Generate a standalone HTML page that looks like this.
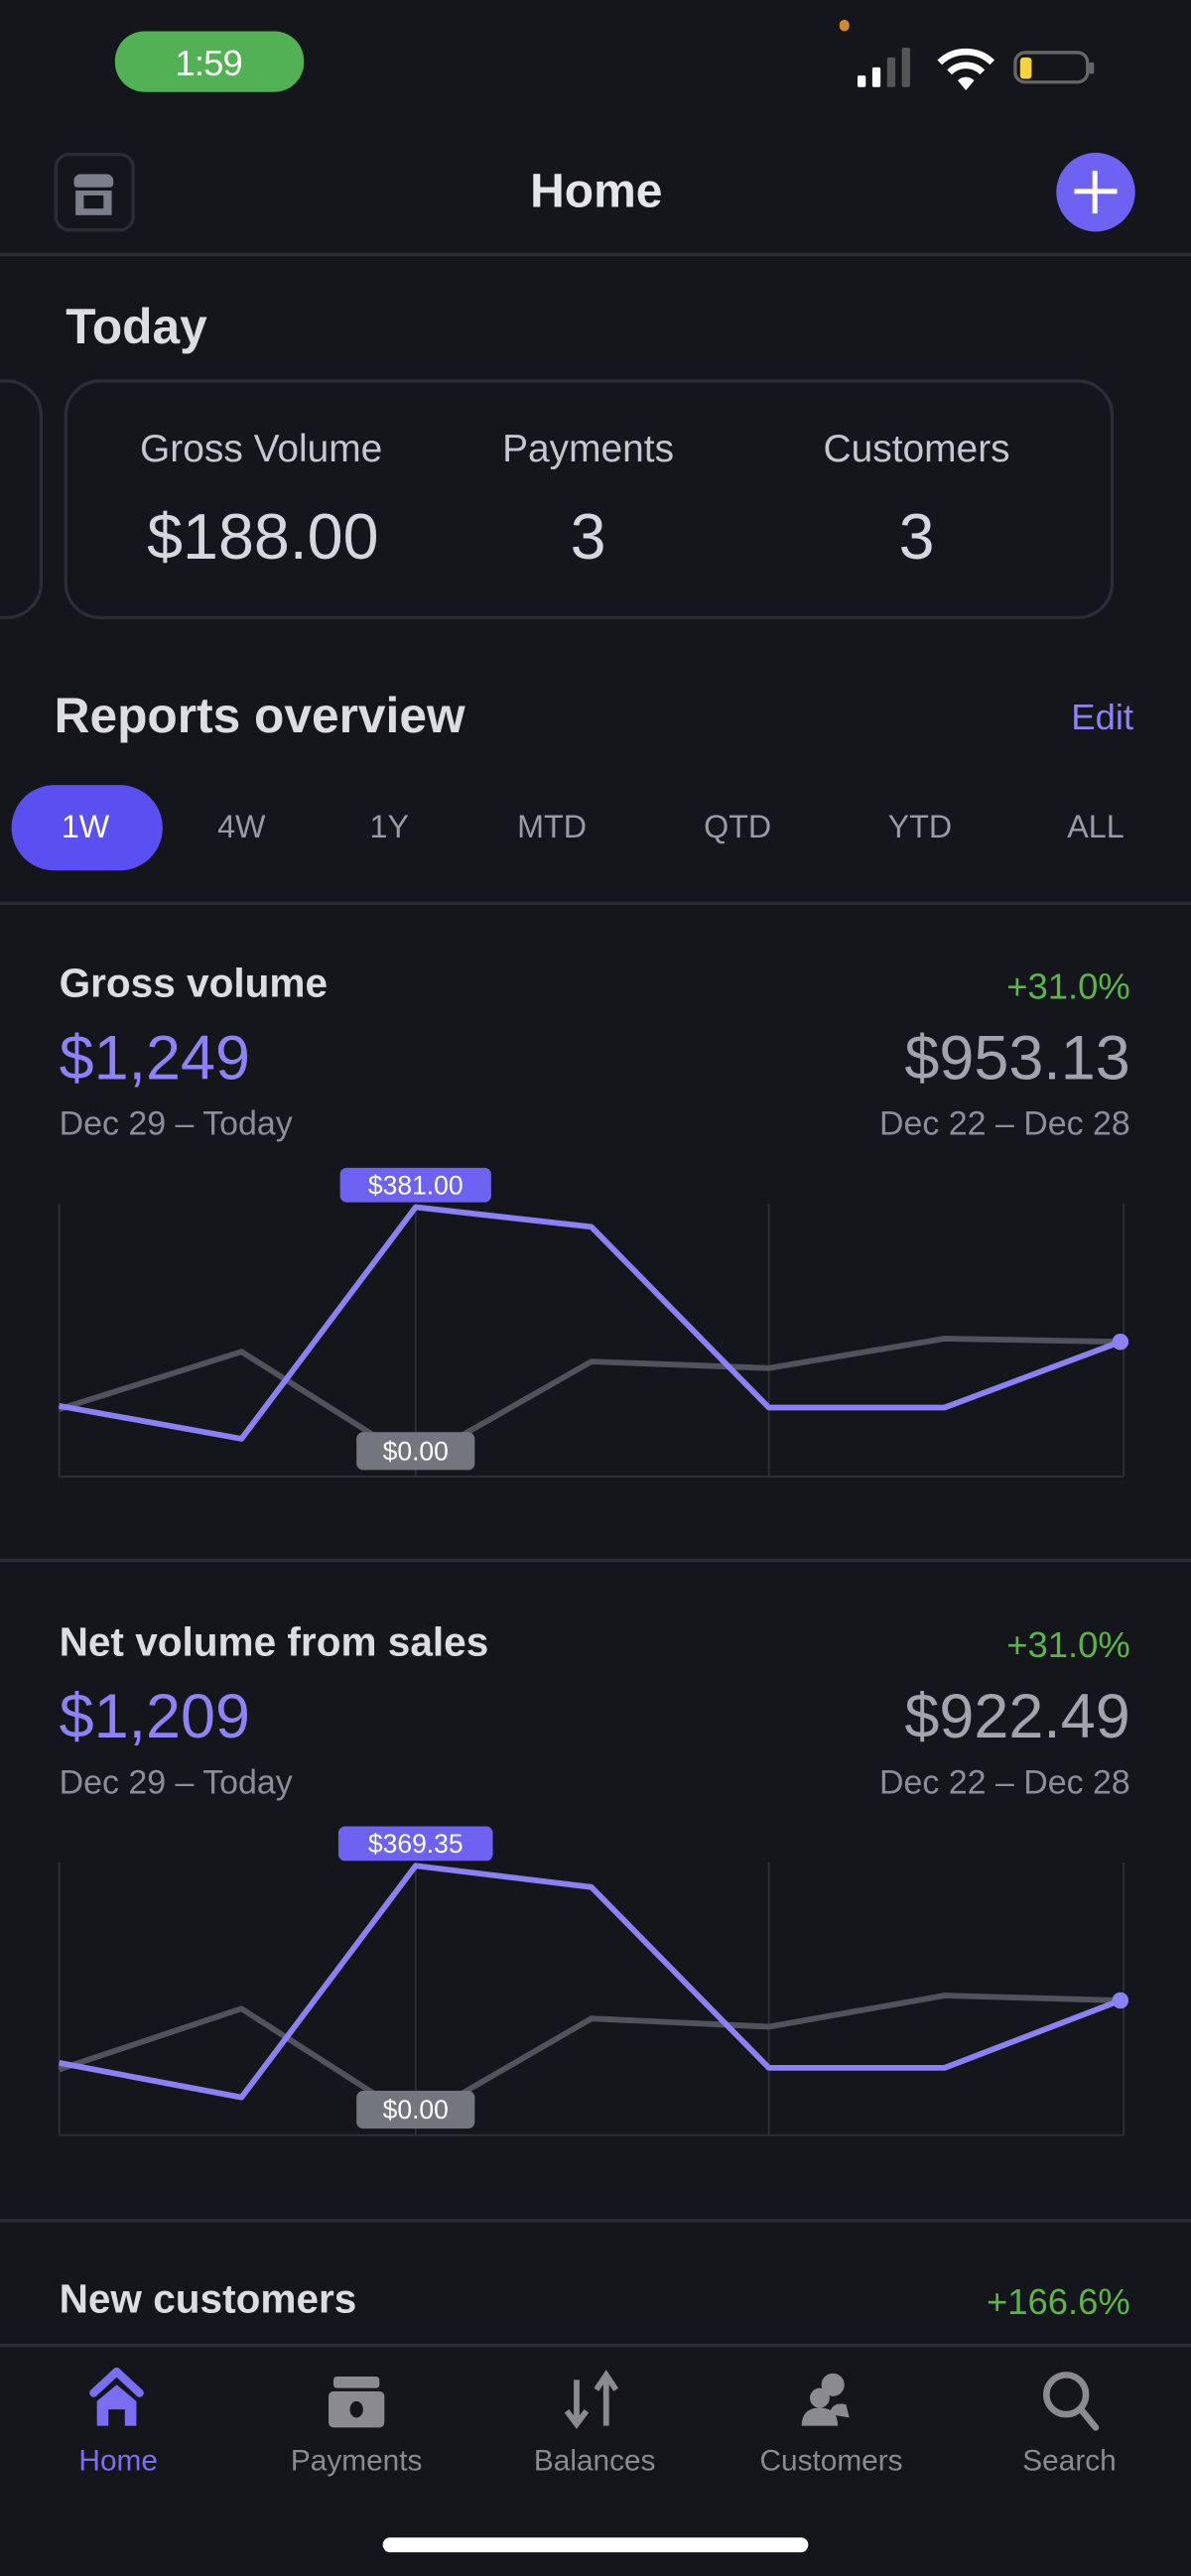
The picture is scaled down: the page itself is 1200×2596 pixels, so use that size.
<!DOCTYPE html>
<html><head><meta charset="utf-8"><style>
html,body{margin:0;padding:0;background:#14161c;}
body{width:1200px;height:2596px;overflow:hidden;}
#w{position:absolute;left:0;top:0;width:725px;height:1568px;transform:scale(1.65517);transform-origin:0 0;font-family:"Liberation Sans",sans-serif;}
.t{position:absolute;white-space:nowrap;line-height:1;}
.r{text-align:right;}
.c{transform:translateX(-50%);}
.hr{position:absolute;left:0;width:725px;height:2px;background:#2a2c33;}
.b{font-weight:bold;}
</style></head><body><div id="w">
<!-- status bar -->
<div style="position:absolute;left:70px;top:19px;width:115px;height:37px;border-radius:18px;background:#53b155;"></div>
<div class="t c" style="left:127px;top:28px;font-size:22px;color:#fff;letter-spacing:-0.5px;">1:59</div>
<div style="position:absolute;left:511px;top:12px;width:6px;height:7px;border-radius:3px;background:#d08a2a;"></div>
<div style="position:absolute;left:522px;top:46px;width:5px;height:7px;background:#fff;border-radius:1px"></div>
<div style="position:absolute;left:531px;top:41px;width:5px;height:12px;background:#fff;border-radius:1px"></div>
<div style="position:absolute;left:540px;top:35px;width:5px;height:18px;background:#555;border-radius:1px"></div>
<div style="position:absolute;left:549px;top:29px;width:5px;height:24px;background:#555;border-radius:1px"></div>
<svg style="position:absolute;left:570px;top:28px" width="36" height="28" viewBox="0 0 36 28"><path d="M2 10 A23 23 0 0 1 34 10" stroke="#fff" stroke-width="4" fill="none"/><path d="M8 16 A14 14 0 0 1 28 16" stroke="#fff" stroke-width="4" fill="none"/><path d="M13 21 L18 27 L23 21 A7 7 0 0 0 13 21Z" fill="#fff"/></svg>
<div style="position:absolute;left:617px;top:31px;width:46px;height:20px;border:2px solid #666;border-radius:7px;box-sizing:border-box;"></div>
<div style="position:absolute;left:663px;top:38px;width:3px;height:7px;background:#666;border-radius:1px"></div>
<div style="position:absolute;left:621px;top:35px;width:7px;height:13px;background:#f2d43d;border-radius:2px"></div>
<!-- header -->
<div style="position:absolute;left:33px;top:93px;width:49px;height:48px;border:2px solid #2a2d35;border-radius:9px;box-sizing:border-box;"></div>
<div style="position:absolute;left:45px;top:106px;width:24px;height:8px;background:#7b7f8c;border-radius:4px 4px 2px 2px"></div>
<div style="position:absolute;left:46px;top:116px;width:22px;height:15px;background:#7b7f8c;"></div>
<div style="position:absolute;left:51px;top:119px;width:12px;height:8px;background:#14161c;"></div>
<div class="t c b" style="left:363px;top:103px;font-size:29px;color:#e4e4ea;">Home</div>
<div style="position:absolute;left:643px;top:93px;width:48px;height:48px;border-radius:24px;background:#6d62f1;"></div>
<div style="position:absolute;left:665px;top:104px;width:3px;height:26px;background:#fff;"></div>
<div style="position:absolute;left:654px;top:115px;width:26px;height:3px;background:#fff;"></div>
<div class="hr" style="top:154px"></div>
<!-- Today -->
<div class="t b" style="left:40px;top:185px;font-size:30px;color:#dcdce2;">Today</div>
<div style="position:absolute;left:-30px;top:231px;width:56px;height:146px;border:2px solid #2b2e36;border-radius:22px;box-sizing:border-box;"></div>
<div style="position:absolute;left:39px;top:231px;width:639px;height:146px;border:2px solid #2b2e36;border-radius:22px;box-sizing:border-box;"></div>
<div class="t c" style="left:159px;top:262px;font-size:23.5px;color:#c6c7ce;">Gross Volume</div>
<div class="t c" style="left:358px;top:262px;font-size:23.5px;color:#c6c7ce;">Payments</div>
<div class="t c" style="left:558px;top:262px;font-size:23.5px;color:#c6c7ce;">Customers</div>
<div class="t c" style="left:160px;top:308px;font-size:39px;color:#d6d7de;">$188.00</div>
<div class="t c" style="left:358px;top:308px;font-size:39px;color:#d6d7de;">3</div>
<div class="t c" style="left:558px;top:308px;font-size:39px;color:#d6d7de;">3</div>
<!-- Reports -->
<div class="t b" style="left:33px;top:422px;font-size:30px;color:#dcdce2;">Reports overview</div>
<div class="t r" style="right:35px;top:426px;font-size:22px;color:#8d82f7;">Edit</div>
<div style="position:absolute;left:7px;top:478px;width:92px;height:52px;border-radius:26px;background:#5a4ff0;"></div>
<div class="t c" style="left:52px;top:495px;font-size:19.5px;color:#fff;">1W</div>
<div class="t c" style="left:147px;top:495px;font-size:19.5px;color:#9a9ba4;">4W</div>
<div class="t c" style="left:237px;top:495px;font-size:19.5px;color:#9a9ba4;">1Y</div>
<div class="t c" style="left:336px;top:495px;font-size:19.5px;color:#9a9ba4;">MTD</div>
<div class="t c" style="left:449px;top:495px;font-size:19.5px;color:#9a9ba4;">QTD</div>
<div class="t c" style="left:560px;top:495px;font-size:19.5px;color:#9a9ba4;">YTD</div>
<div class="t c" style="left:667px;top:495px;font-size:19.5px;color:#9a9ba4;">ALL</div>
<div class="hr" style="top:549px"></div>

<!-- Section 1 -->
<div class="t b" style="left:36px;top:588px;font-size:24.5px;color:#dcdce2;">Gross volume</div>
<div class="t r" style="right:37px;top:590px;font-size:22px;color:#5cb548;">+31.0%</div>
<div class="t" style="left:36px;top:626px;font-size:38px;color:#8d82f7;">$1,249</div>
<div class="t r" style="right:37px;top:626px;font-size:38px;color:#a1a3ad;">$953.13</div>
<div class="t" style="left:36px;top:675px;font-size:20.5px;color:#8c8d96;">Dec 29 – Today</div>
<div class="t r" style="right:37px;top:675px;font-size:20.5px;color:#8c8d96;">Dec 22 – Dec 28</div>
<svg style="position:absolute;left:0;top:700px" width="725" height="220" viewBox="0 700 725 220">
<g stroke="#2c2e35" stroke-width="1.2"><line x1="36" y1="733" x2="36" y2="899"/><line x1="253" y1="733" x2="253" y2="899"/><line x1="468" y1="733" x2="468" y2="899"/><line x1="684" y1="733" x2="684" y2="899"/><line x1="36" y1="899" x2="684" y2="899"/></g>
<polyline points="36,858 147,823 253,890 360,829 468,833 575,815 682,817" fill="none" stroke="#50535c" stroke-width="3.5" stroke-linejoin="round"/>
<polyline points="36,856 147,876 253,735 360,747 468,857 575,857 682,817" fill="none" stroke="#8b80f5" stroke-width="3.5" stroke-linejoin="round"/>
<circle cx="682" cy="817" r="5" fill="#8b80f5"/>
<rect x="207" y="711" width="92" height="21" rx="4" fill="#6d62f1"/>
<text x="253" y="727" font-size="16" fill="#fff" text-anchor="middle" font-family="Liberation Sans">$381.00</text>
<rect x="217" y="872" width="72" height="23" rx="4" fill="#73767f"/>
<text x="253" y="889" font-size="16" fill="#fff" text-anchor="middle" font-family="Liberation Sans">$0.00</text>
</svg>
<div class="hr" style="top:949px"></div>

<!-- Section 2 -->
<div class="t b" style="left:36px;top:989px;font-size:24.5px;color:#dcdce2;">Net volume from sales</div>
<div class="t r" style="right:37px;top:991px;font-size:22px;color:#5cb548;">+31.0%</div>
<div class="t" style="left:36px;top:1027px;font-size:38px;color:#8d82f7;">$1,209</div>
<div class="t r" style="right:37px;top:1027px;font-size:38px;color:#a1a3ad;">$922.49</div>
<div class="t" style="left:36px;top:1076px;font-size:20.5px;color:#8c8d96;">Dec 29 – Today</div>
<div class="t r" style="right:37px;top:1076px;font-size:20.5px;color:#8c8d96;">Dec 22 – Dec 28</div>
<svg style="position:absolute;left:0;top:1100px" width="725" height="220" viewBox="0 1100 725 220">
<g stroke="#2c2e35" stroke-width="1.2"><line x1="36" y1="1134" x2="36" y2="1300"/><line x1="253" y1="1134" x2="253" y2="1300"/><line x1="468" y1="1134" x2="468" y2="1300"/><line x1="684" y1="1134" x2="684" y2="1300"/><line x1="36" y1="1300" x2="684" y2="1300"/></g>
<polyline points="36,1260 147,1223 253,1291 360,1229 468,1234 575,1215 682,1218" fill="none" stroke="#50535c" stroke-width="3.5" stroke-linejoin="round"/>
<polyline points="36,1256 147,1277 253,1136 360,1149 468,1259 575,1259 682,1218" fill="none" stroke="#8b80f5" stroke-width="3.5" stroke-linejoin="round"/>
<circle cx="682" cy="1218" r="5" fill="#8b80f5"/>
<rect x="206" y="1112" width="94" height="21" rx="4" fill="#6d62f1"/>
<text x="253" y="1128" font-size="16" fill="#fff" text-anchor="middle" font-family="Liberation Sans">$369.35</text>
<rect x="217" y="1273" width="72" height="23" rx="4" fill="#73767f"/>
<text x="253" y="1290" font-size="16" fill="#fff" text-anchor="middle" font-family="Liberation Sans">$0.00</text>
</svg>
<div class="hr" style="top:1351px"></div>

<div class="t b" style="left:36px;top:1389px;font-size:24.5px;color:#dcdce2;">New customers</div>
<div class="t r" style="right:37px;top:1391px;font-size:22px;color:#5cb548;">+166.6%</div>

<!-- tab bar -->
<div style="position:absolute;left:0;top:1428px;width:725px;height:140px;background:#14161c;"></div>
<div class="hr" style="top:1427px"></div>
<svg style="position:absolute;left:0;top:1436px" width="725" height="50" viewBox="0 1436 725 50">
<path d="M57 1457 L71 1444 L85 1457" stroke="#7a6ff3" stroke-width="5" fill="none" stroke-linejoin="round" stroke-linecap="round"/>
<path d="M59 1462 L71 1452 L83 1462 L83 1477 L76 1477 L76 1467 L66 1467 L66 1477 L59 1477Z" fill="#7a6ff3"/>
<rect x="203" y="1447" width="28" height="7" rx="2" fill="#8a8a90"/>
<rect x="200" y="1456" width="34" height="22" rx="3" fill="#8a8a90"/>
<ellipse cx="217" cy="1467" rx="4" ry="5" fill="#14161c"/>
<path d="M351 1449 L351 1475 M345 1468 L351 1476 L357 1468" stroke="#8a8a90" stroke-width="3.5" fill="none"/>
<path d="M369 1477 L369 1447 M363 1455 L369 1446 L375 1455" stroke="#8a8a90" stroke-width="3.5" fill="none"/>
<circle cx="507" cy="1452" r="7" fill="#8a8a90"/>
<circle cx="499" cy="1460" r="6" fill="#8a8a90"/>
<path d="M488 1477 Q488 1466 499 1466 Q510 1466 510 1477Z" fill="#8a8a90"/>
<path d="M505 1470 Q506 1462 515 1464 L517 1472Z" fill="#8a8a90"/>
<circle cx="649" cy="1458" r="12" stroke="#8a8a90" stroke-width="4" fill="none"/>
<line x1="658" y1="1467" x2="667" y2="1478" stroke="#8a8a90" stroke-width="4" stroke-linecap="round"/>
</svg>
<div class="t c" style="left:72px;top:1489px;font-size:18px;color:#7a6ff3;">Home</div>
<div class="t c" style="left:217px;top:1489px;font-size:18px;color:#8a8a90;">Payments</div>
<div class="t c" style="left:362px;top:1489px;font-size:18px;color:#8a8a90;">Balances</div>
<div class="t c" style="left:506px;top:1489px;font-size:18px;color:#8a8a90;">Customers</div>
<div class="t c" style="left:651px;top:1489px;font-size:18px;color:#8a8a90;">Search</div>
<div style="position:absolute;left:233px;top:1545px;width:259px;height:9px;border-radius:5px;background:#fff;"></div>
</div></body></html>
